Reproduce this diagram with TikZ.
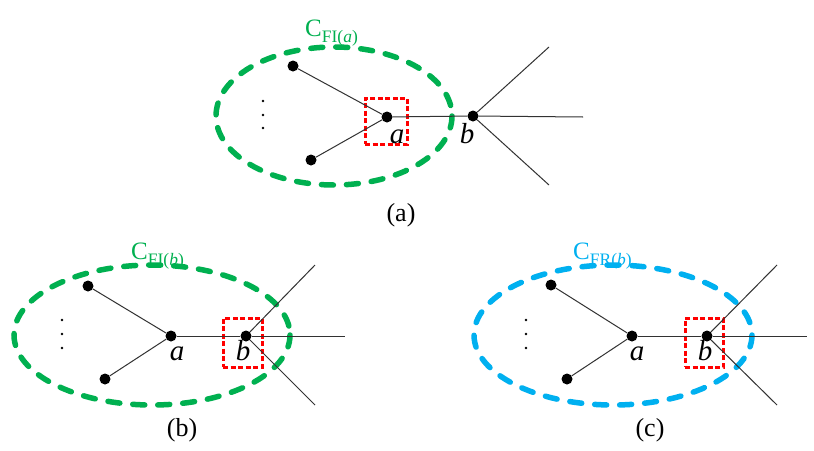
\documentclass[tikz,border=0pt]{standalone}
\usepackage{fontspec}
\setmainfont{Liberation Serif}
\definecolor{cgreen}{RGB}{0,176,80}
\definecolor{cblue}{RGB}{0,176,240}
\definecolor{cred}{RGB}{255,0,0}
\definecolor{edgegray}{RGB}{50,50,50}
\tikzset{
  dot/.style={circle,fill=black,inner sep=0pt,minimum size=11pt},
  tiny/.style={circle,fill=black,inner sep=0pt,minimum size=2.6pt},
  edge/.style={edgegray,line width=1pt},
  cluster/.style={line width=5.5pt,line cap=round,dash pattern=on 12pt off 13pt},
  redbox/.style={draw=cred,line width=3pt,dash pattern=on 5pt off 2.5pt},
  lbl/.style={font=\fontsize{29}{32}\selectfont\itshape,anchor=base,inner sep=0pt},
  captext/.style={font=\fontsize{26}{30}\selectfont,inner sep=0pt},
  clbl/.style={anchor=base west,inner sep=0pt}
}
\newcommand{\clab}[2]{{\fontsize{25}{28}\selectfont C}{\fontsize{17.5}{20}\selectfont\raisebox{-6pt}{#1(\textit{#2})}}}
\begin{document}
\begin{tikzpicture}[x=1pt,y=-1pt]
\useasboundingbox (0,0) rectangle (814,450);
\fill[white] (0,0) rectangle (814,450);

% ---------- panel (a) ----------
\draw[cluster,cgreen] (334,116) ellipse [x radius=118,y radius=69];
\node[redbox,minimum width=42pt,minimum height=46pt,inner sep=0pt] (ra) at (386,121) {};
\node[dot] (at) at (293,66) {};
\node[dot] (ab) at (311,160) {};
\node[dot] (aa) at (387,117) {};
\node[dot] (abb) at (473,116) {};
\coordinate (ae1) at (549,47);
\coordinate (ae2) at (583,117);
\coordinate (ae3) at (549,185);
\draw[edge] (at) -- (aa);
\draw[edge] (ab) -- (aa);
\draw[edge] (aa) -- (abb);
\draw[edge] (abb) -- (ae1);
\draw[edge] (abb) -- (ae2);
\draw[edge] (abb) -- (ae3);
\node[tiny] (ad1) at (263,101) {};
\node[tiny] (ad2) at (263,115) {};
\node[tiny] (ad3) at (263,128) {};
\node[lbl] (la) at (397,143) {a};
\node[lbl] (lb) at (467,143) {b};
\node[clbl,text=cgreen] (ca) at (305,36) {\clab{FI}{a}};
\node[captext] (capa) at (401,215) {(a)};

% ---------- panel (b) ----------
\draw[cluster,cgreen] (152,335) ellipse [x radius=138,y radius=70];
\node[redbox,minimum width=39pt,minimum height=49pt,inner sep=0pt] (rb) at (242.5,342.5) {};
\node[dot] (bt) at (88,286) {};
\node[dot] (bb) at (105,379) {};
\node[dot] (ba) at (171,336) {};
\node[dot] (bbb) at (246,336) {};
\coordinate (be1) at (315,265);
\coordinate (be2) at (345,336);
\coordinate (be3) at (315,405);
\draw[edge] (bt) -- (ba);
\draw[edge] (bb) -- (ba);
\draw[edge] (ba) -- (bbb);
\draw[edge] (bbb) -- (be1);
\draw[edge] (bbb) -- (be2);
\draw[edge] (bbb) -- (be3);
\node[tiny] (bd1) at (62,320) {};
\node[tiny] (bd2) at (62,334) {};
\node[tiny] (bd3) at (62,348) {};
\node[lbl] (lba) at (177,360) {a};
\node[lbl] (lbb) at (243,360) {b};
\node[clbl,text=cgreen] (cb) at (131,259) {\clab{FI}{b}};
\node[captext] (capb) at (182,430) {(b)};

% ---------- panel (c) ----------
\draw[cluster,cblue] (613,335) ellipse [x radius=139,y radius=70];
\node[redbox,minimum width=38pt,minimum height=49pt,inner sep=0pt] (rc) at (704,342.5) {};
\node[dot] (ct) at (551,285) {};
\node[dot] (cb2) at (567,379) {};
\node[dot] (ca2) at (632,336) {};
\node[dot] (cbb) at (707,336) {};
\coordinate (ce1) at (777,265);
\coordinate (ce2) at (807,336);
\coordinate (ce3) at (777,405);
\draw[edge] (ct) -- (ca2);
\draw[edge] (cb2) -- (ca2);
\draw[edge] (ca2) -- (cbb);
\draw[edge] (cbb) -- (ce1);
\draw[edge] (cbb) -- (ce2);
\draw[edge] (cbb) -- (ce3);
\node[tiny] (cd1) at (526,320) {};
\node[tiny] (cd2) at (526,334) {};
\node[tiny] (cd3) at (526,348) {};
\node[lbl] (lca) at (637,360) {a};
\node[lbl] (lcb) at (705,360) {b};
\node[clbl,text=cblue] (cc) at (573,259) {\clab{FR}{b}};
\node[captext] (capc) at (650,430) {(c)};
\end{tikzpicture}
\end{document}
